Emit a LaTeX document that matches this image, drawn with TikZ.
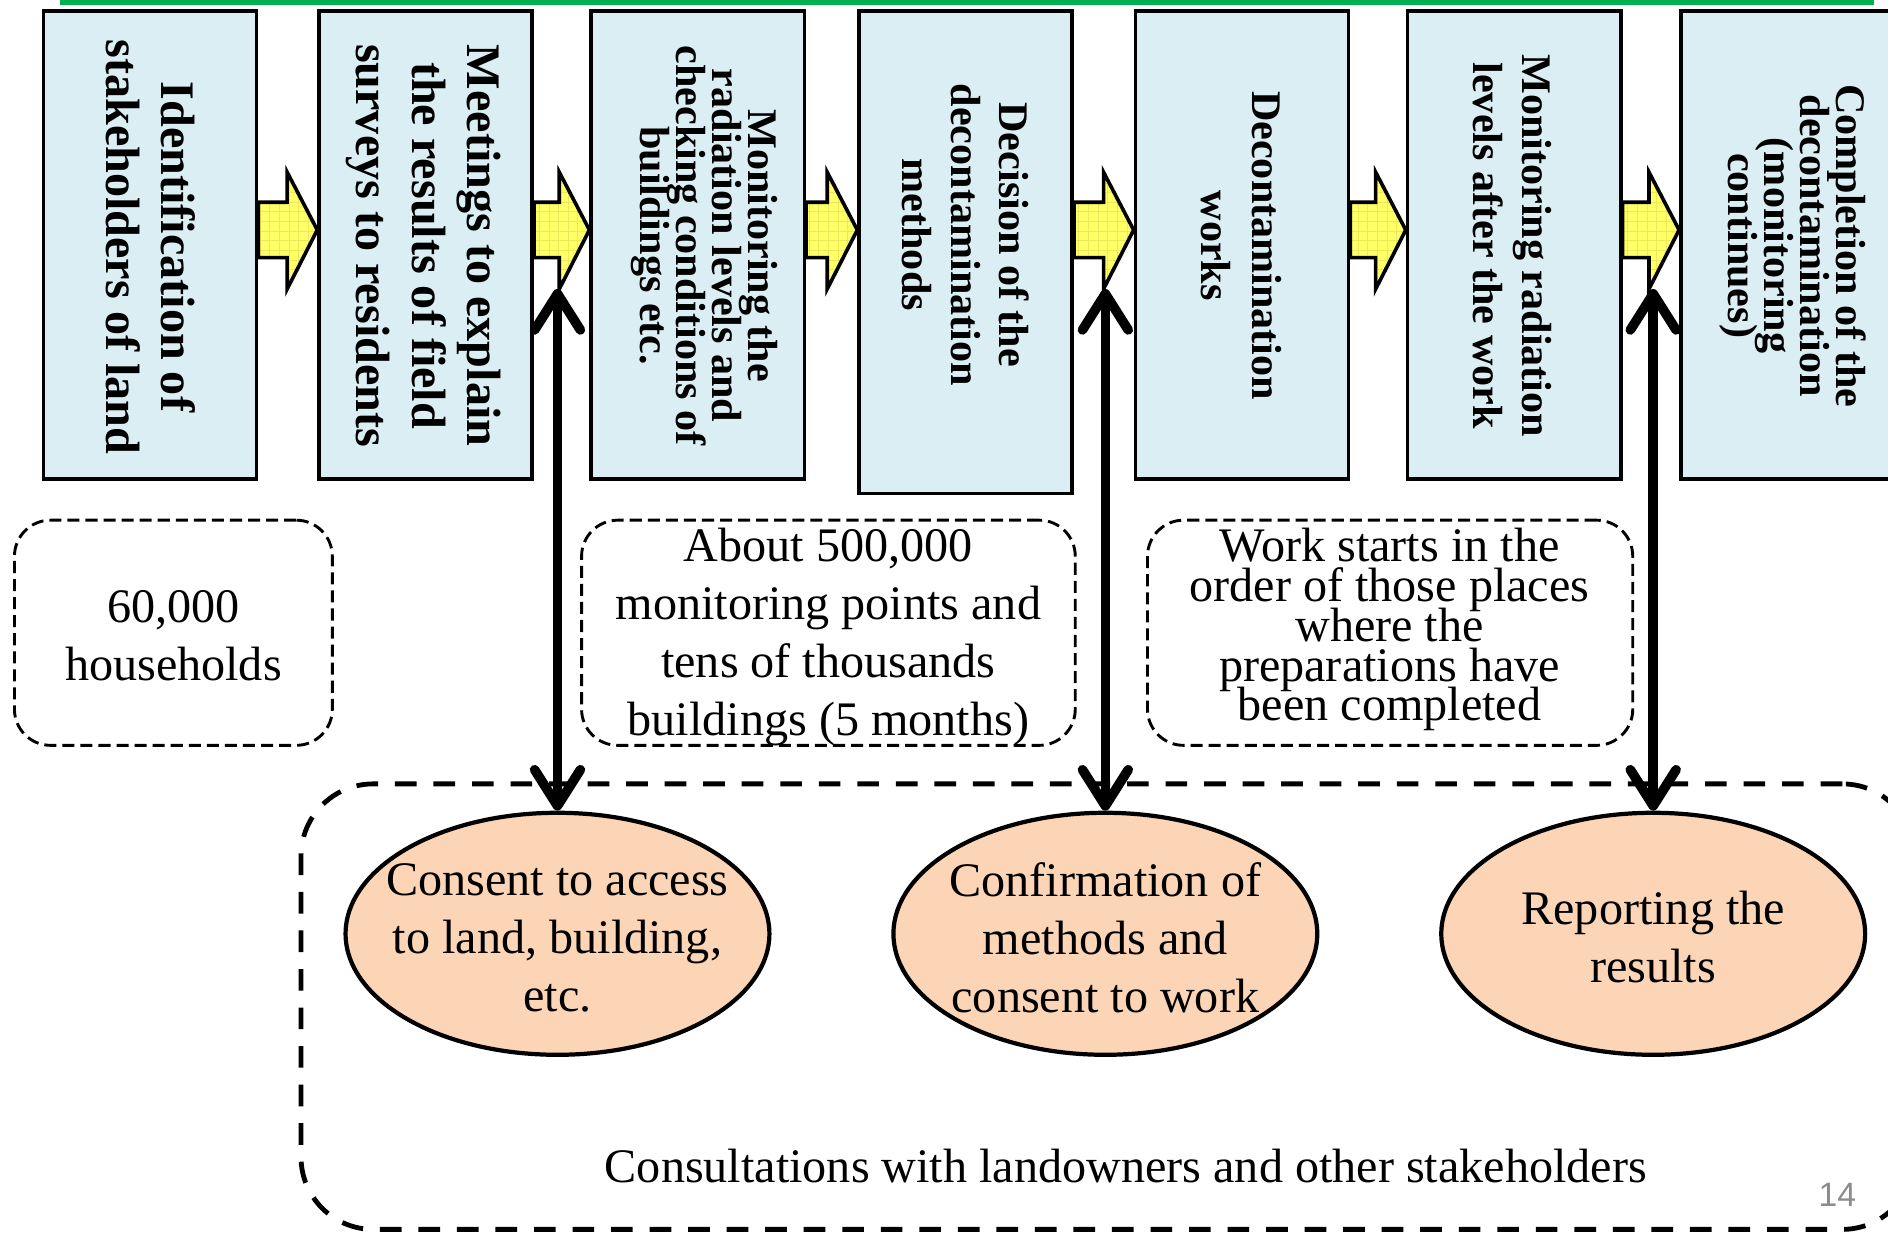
\documentclass[tikz,border=0pt]{standalone}
\usepackage{fontspec}
\setmainfont{Liberation Serif}
\newfontfamily\pagenumfont{Liberation Sans}
\usetikzlibrary{shapes.geometric,arrows.meta,calc}
\definecolor{boxblue}{HTML}{DAEEF3}
\definecolor{peach}{HTML}{FBD5B5}
\definecolor{arrowyellow}{HTML}{FFFF66}
\definecolor{gridyellow}{HTML}{EDE85A}
\definecolor{topgreen}{HTML}{00B050}
\newcommand\tightlines{\lineskiplimit=-1000pt\lineskip=0pt}
\newcommand\blockarrow[2]{%
  \path[yarrow] let \p1=(#1.east), \p2=(#2.west) in
   (\x1,-84pt) -- (\x2-12.5pt,-84pt) -- (\x2-12.5pt,-71.5pt) -- (\x2,-95.5pt)
   -- (\x2-12.5pt,-120pt) -- (\x2-12.5pt,-107pt) -- (\x1,-107pt) -- cycle;}
\begin{document}
\begin{tikzpicture}[x=0.5pt,y=-0.5pt,
  procbox/.style={draw=black, line width=1.5pt, fill=boxblue,
    minimum width=88.5pt, minimum height=194.5pt, inner sep=0pt},
  bigtext/.style={rotate=-90, align=center, inner sep=0pt,
    font=\bfseries\fontsize{20}{23}\selectfont\tightlines},
  midtext/.style={rotate=-90, align=center, inner sep=0pt,
    font=\bfseries\fontsize{17.5}{20}\selectfont\tightlines},
  packtext/.style={rotate=-90, align=center, inner sep=0pt,
    font=\bfseries\fontsize{17.5}{15}\selectfont\tightlines},
  yarrow/.style={draw=black, line width=1.5pt, fill=arrowyellow,
    path picture={\draw[gridyellow, line width=0.4pt]
      (path picture bounding box.south west) grid[step=4pt]
      (path picture bounding box.north east);}},
  notebox/.style={draw=black, line width=1.2pt, dash pattern=on 5pt off 2.5pt,
    rounded corners=15pt, minimum height=93.5pt, inner sep=0pt},
  notetext/.style={align=center, inner sep=0pt,
    font=\fontsize{20}{24}\selectfont\tightlines},
  consbox/.style={draw=black, line width=2pt, dash pattern=on 9pt off 7pt,
    rounded corners=30pt, inner sep=0pt},
  consent/.style={ellipse, draw=black, line width=1.75pt, fill=peach,
    minimum width=176pt, minimum height=100.5pt, inner sep=0pt},
  elltext/.style={align=center, inner sep=0pt,
    font=\fontsize{20}{24}\selectfont\tightlines},
  vconn/.style={line width=4pt,
    {Straight Barb[length=15pt,width=19pt,round]}-{Straight Barb[length=15pt,width=19pt,round]}}
]
\useasboundingbox (0,0) rectangle (1568,1025);

% top green rule
\draw[topgreen, line width=2.5pt] (50,2) -- (1556,2);

% process boxes
\node[procbox] (b1) at (124.5,203.5) {};
\node[procbox] (b2) at (353.5,203.5) {};
\node[procbox] (b3) at (579.5,203.5) {};
\node[procbox, minimum height=200.5pt] (b4) at (802,209.5) {};
\node[procbox] (b5) at (1031.5,203.5) {};
\node[procbox] (b6) at (1257.5,203.5) {};
\node[procbox] (b7) at (1484.5,203.5) {};

\node[bigtext] (bt1) at (125,205) {Identification of\\stakeholders of land};
\node[bigtext] (bt2) at (352,204) {Meetings to explain\\the results of field\\surveys to residents};
\node[packtext] (bt3) at (585,204) {Monitoring the\\radiation levels and\\checking conditions of\\buildings etc.};
\node[midtext] (bt4) at (802,195) {Decision of the\\decontamination\\methods};
\node[midtext, font=\bfseries\fontsize{17.5}{21}\selectfont\tightlines] (bt5) at (1031,204) {Decontamination\\works};
\node[midtext] (bt6) at (1256,204) {Monitoring radiation\\levels after the work};
\node[packtext] (bt7) at (1489,204) {Completion of the\\decontamination\\(monitoring\\continues)};

% block arrows between boxes
\blockarrow{b1}{b2}
\blockarrow{b2}{b3}
\blockarrow{b3}{b4}
\blockarrow{b4}{b5}
\blockarrow{b5}{b6}
\blockarrow{b6}{b7}

% dashed note boxes
\node[notebox, minimum width=132pt] (n1) at (144,525.5) {};
\node[notebox, minimum width=205pt] (n2) at (688,525.5) {};
\node[notebox, minimum width=201.5pt] (n3) at (1154.5,525.5) {};
\node[notetext] (nt1) at (144,528) {60,000\\households};
\node[notetext] (nt2) at (688,529) {About 500,000\\monitoring points and\\tens of thousands\\buildings (5 months)};
\node[notetext, font=\fontsize{20}{16.5}\selectfont\tightlines] (nt3) at (1154,523) {Work starts in the\\order of those places\\where the\\preparations have\\been completed};

% consultation frame
\node[consbox, minimum width=670pt, minimum height=185pt] (cons) at (920,836) {};
\node[elltext] (const) at (935,968) {Consultations with landowners and other stakeholders};

% consent ellipses
\node[consent] (e1) at (463,775.5) {};
\node[consent] (e2) at (918,775.5) {};
\node[consent] (e3) at (1373,775.5) {};
\node[elltext] (et1) at (463,779) {Consent to access\\to land, building,\\etc.};
\node[elltext] (et2) at (918,779) {Confirmation of\\methods and\\consent to work};
\node[elltext] (et3) at (1373,778) {Reporting the\\results};

% two-way connectors
\coordinate (v1) at (463,240);
\coordinate (v2) at (918,240);
\coordinate (v3) at (1373,240);
\draw[vconn] (v1) -- (e1.north);
\draw[vconn] (v2) -- (e2.north);
\draw[vconn] (v3) -- (e3.north);

% page number
\node[font=\pagenumfont\fontsize{14}{14}\selectfont, text=black!45, inner sep=0pt] (pg) at (1526,992) {14};
\end{tikzpicture}
\end{document}
